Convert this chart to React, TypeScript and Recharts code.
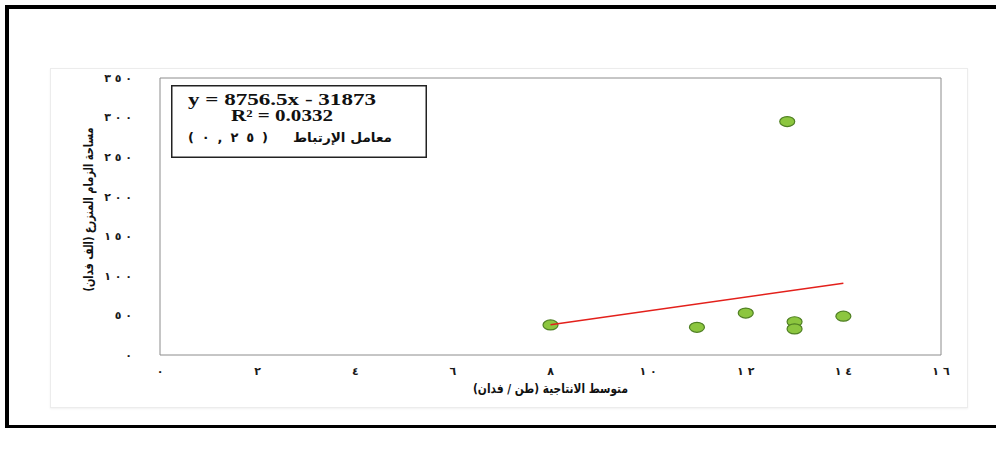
import React from 'react';
import { ScatterChart, Scatter, XAxis, YAxis, ReferenceArea } from 'recharts';

// average yield (ton / feddan) and cultivated area (thousand feddan)
const yieldX = [8, 11, 12, 12.85, 13, 13, 14];
const areaY = [38, 35, 53, 295, 42, 33, 49];

// fitted line end points
const trendX = [8, 14];
const trendY = [38.2, 90.7];

const xTicks = [0, 2, 4, 6, 8, 10, 12, 14, 16];
const yTicks = [0, 50, 100, 150, 200, 250, 300, 350];

const points = yieldX.map((x, i) => ({ x, y: areaY[i] }));
const trend = trendX.map((x, i) => ({ x, y: trendY[i] }));

// Arabic-Indic digits; a no-break space keeps the digits spaced and in order
const toArabic = (v: number) =>
    String(v)
        .split('')
        .map((d) => '٠١٢٣٤٥٦٧٨٩'[Number(d)])
        .join('\u00A0');

const tickFont = {
    fill: '#1a1a1a',
    fontFamily: 'DejaVu Sans',
    fontWeight: 700,
    fontSize: 11,
};

const XTick = ({ x, y, payload }: any) => (
    <text x={x} y={y} dy="0.71em" textAnchor="middle" {...tickFont}>
        {toArabic(payload.value)}
    </text>
);

const YTick = ({ x, y, payload }: any) => (
    <text x={x} y={y} dy="0.355em" textAnchor="end" {...tickFont}>
        {toArabic(payload.value)}
    </text>
);

const Dot = (props: any) => (
    <ellipse cx={props.cx} cy={props.cy} rx={7.5} ry={5} fill="#8cc63f" stroke="#4f7f23" strokeWidth={1.2} />
);

const NoDot = () => null;

const titleFont = {
    fontFamily: 'DejaVu Sans',
    fontWeight: 700,
    fontSize: 13,
    fill: '#111',
};

const YTitle = ({ viewBox }: any) => {
    const cx = 88;
    const cy = viewBox.y + viewBox.height / 2 - 7;
    return (
        <text
            x={cx}
            y={cy}
            transform={`rotate(-90, ${cx}, ${cy})`}
            textAnchor="middle"
            dominantBaseline="central"
            direction="rtl"
            textLength={164}
            lengthAdjust="spacingAndGlyphs"
            {...titleFont}
        >
            مساحة الزمام المنزرع (الف فدان)
        </text>
    );
};

const XTitle = ({ viewBox }: any) => {
    const cx = viewBox.x + viewBox.width / 2;
    const cy = 388;
    return (
        <text
            x={cx}
            y={cy}
            textAnchor="middle"
            dominantBaseline="central"
            direction="rtl"
            textLength={155}
            lengthAdjust="spacingAndGlyphs"
            {...titleFont}
        >
            متوسط الانتاجية (طن / فدان)
        </text>
    );
};

const App: React.FC = () => {
    return (
        <div style={{ position: 'absolute', left: 0, top: 0, width: 997, height: 458, background: '#fff', overflow: 'hidden' }}>
            {/* outer frame: left, top and bottom rules only */}
            <div style={{ position: 'absolute', left: 5, top: 5, width: 4, height: 423, background: '#000' }} />
            <div style={{ position: 'absolute', left: 5, top: 5, width: 991, height: 4, background: '#000' }} />
            <div style={{ position: 'absolute', left: 5, top: 425, width: 991, height: 3, background: '#000' }} />
            {/* chart panel */}
            <div
                style={{
                    position: 'absolute', left: 50, top: 68, width: 918, height: 340, boxSizing: 'border-box',
                    border: '1px solid #ececec', boxShadow: '0 1px 2px rgba(0,0,0,0.06)',
                }}
            />
            <div style={{ position: 'absolute', left: 0, top: 0 }}>
                <ScatterChart width={997} height={458} margin={{ top: 78, right: 56, bottom: 63, left: 100 }}>
                    <XAxis
                        type="number"
                        dataKey="x"
                        domain={[0, 16]}
                        ticks={xTicks}
                        axisLine={false}
                        tickLine={false}
                        tick={<XTick />}
                        tickMargin={6}
                        height={40}
                        interval={0}
                        label={<XTitle />}
                    />
                    <YAxis
                        type="number"
                        dataKey="y"
                        domain={[0, 350]}
                        ticks={yTicks}
                        axisLine={false}
                        tickLine={false}
                        tick={<YTick />}
                        tickMargin={22}
                        width={60}
                        interval={0}
                        label={<YTitle />}
                    />
                    <ReferenceArea x1={0} x2={16} y1={0} y2={350} fill="none" stroke="#8c8c8c" strokeWidth={1} />
                    <Scatter data={points} shape={<Dot />} isAnimationActive={false} />
                    <Scatter
                        data={trend}
                        line={{ stroke: '#e3201b', strokeWidth: 1.6 }}
                        shape={<NoDot />}
                        isAnimationActive={false}
                    />
                </ScatterChart>
            </div>
            {/* regression annotation */}
            <svg style={{ position: 'absolute', left: 171, top: 85 }} width={256} height={73}>
                <rect x={0.75} y={0.75} width={254.5} height={71.5} fill="#fff" stroke="#222" strokeWidth={1.5} />
                <text x={111} y={20} textAnchor="middle" fontFamily="Liberation Serif" fontWeight={700} fontSize={16}
                    fill="#111" textLength={188} lengthAdjust="spacingAndGlyphs">
                    y = 8756.5x - 31873
                </text>
                <text x={111} y={36} textAnchor="middle" fontFamily="Liberation Serif" fontWeight={700} fontSize={16}
                    fill="#111" textLength={102} lengthAdjust="spacingAndGlyphs">
                    R² = 0.0332
                </text>
                <text x={171.5} y={57} textAnchor="middle" direction="rtl" fontFamily="DejaVu Sans" fontWeight={700}
                    fontSize={13} fill="#111" textLength={99} lengthAdjust="spacingAndGlyphs">
                    معامل الإرتباط
                </text>
                <text x={57} y={57} textAnchor="middle" direction="ltr" unicodeBidi="bidi-override" fontFamily="DejaVu Sans"
                    fontWeight={700} fontSize={13} fill="#111" textLength={80} lengthAdjust="spacing">
                    ( ٠ , ٢ ٥ )
                </text>
            </svg>
        </div>
    );
};

export default App;
